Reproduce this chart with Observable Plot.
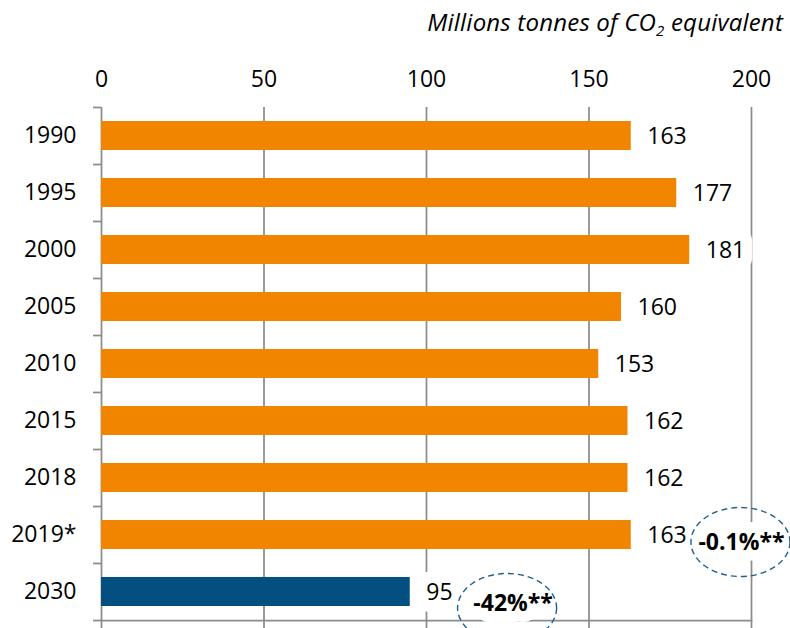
<!DOCTYPE html>
<html>
<head>
<meta charset="utf-8">
<script src="https://cdn.jsdelivr.net/npm/d3@7"></script>
<script src="https://cdn.jsdelivr.net/npm/@observablehq/plot@0.6"></script>
<style>
  html, body { margin: 0; padding: 0; background: white; }
  #title { font: italic 24px "Open Sans", sans-serif; text-align: right; padding-right: 7px; height: 44px; line-height: 44px; color: #000; white-space: nowrap; letter-spacing: 0.2px; }
  #title sub { font-size: 15px; vertical-align: -5px; line-height: 0; }
  #chart svg { display: block; }
</style>
</head>
<body>
<div id="title">Millions tonnes of CO<sub>2</sub> equivalent</div>
<div id="chart"></div>
<script>
// ---- data ----
const years = ["1990", "1995", "2000", "2005", "2010", "2015", "2018", "2019*", "2030"];
const emissions = [163, 177, 181, 160, 153, 162, 162, 163, 95];
const kinds = ["history", "history", "history", "history", "history", "history", "history", "history", "target"];
const xTicks = [0, 50, 100, 150, 200];
const noteYears = ["2019*", "2030"];
const noteLabels = ["-0.1%**", "-42%**"];
const noteX = [196.6, 124.8];

const data = years.map((y, i) => ({year: y, value: emissions[i], kind: kinds[i]}));
const notes = noteYears.map((y, i) => ({year: y, label: noteLabels[i], x: noteX[i]}));

// ---- layout ----
const W = 790, H = 584, mT = 63, mB = 8, mL = 101, mR = 39;
const step = (H - mT - mB) / years.length;
const gray = "#8c8c8c";
const FS = 23;

// ellipse symbol for the annotations
const ellipse = {
  draw(ctx) {
    const rx = 49.5, ry = 34.5, k = 0.5523;
    ctx.moveTo(rx, 0);
    ctx.bezierCurveTo(rx, k * ry, k * rx, ry, 0, ry);
    ctx.bezierCurveTo(-k * rx, ry, -rx, k * ry, -rx, 0);
    ctx.bezierCurveTo(-rx, -k * ry, -k * rx, -ry, 0, -ry);
    ctx.bezierCurveTo(k * rx, -ry, rx, -k * ry, rx, 0);
    ctx.closePath();
  }
};

const chart = Plot.plot({
  width: W, height: H,
  marginTop: mT, marginBottom: mB, marginLeft: mL, marginRight: mR,
  style: {fontFamily: "'Open Sans', sans-serif", fontSize: FS + "px", color: "#000", background: "white"},
  x: {domain: [0, 200], axis: null},
  y: {domain: years, paddingInner: 0.5, paddingOuter: 0.25, axis: null},
  color: {domain: ["history", "target"], range: ["#F28500", "#034F80"]},
  marks: [
    Plot.ruleX(xTicks, {stroke: gray, strokeWidth: 1.75, insetBottom: -8}),
    Plot.frame({anchor: "bottom", stroke: gray, strokeWidth: 1.75}),
    Plot.ruleY(years, {y: d => d, x1: 0, x2: 0, insetLeft: -8, dy: -step / 2, stroke: gray, strokeWidth: 1.75}),
    Plot.ruleY(years.slice(-1), {y: d => d, x1: 0, x2: 0, insetLeft: -8, dy: step / 2, stroke: gray, strokeWidth: 1.75}),
    Plot.axisX({anchor: "top", ticks: xTicks, tickSize: 0, tickPadding: 21, label: null, fontSize: FS}),
    Plot.axisY({tickSize: 0, tickPadding: 25, label: null, fontSize: FS}),
    Plot.barX(data, {x: "value", y: "year", fill: "kind"}),
    Plot.text(data, {x: "value", y: "year", text: d => String(d.value), textAnchor: "start", dx: 16, dy: 1,
      fill: "#000", stroke: "white", strokeWidth: 24, strokeLinejoin: "round", paintOrder: "stroke", fontSize: FS}),
    Plot.text(notes.slice(0, 1), {x: "x", y: "year", text: "label", dx: 1, dy: 8, fontWeight: "bold",
      fill: "#000", stroke: "white", strokeWidth: 22, strokeLinejoin: "round", paintOrder: "stroke", fontSize: FS}),
    Plot.text(notes.slice(1), {x: "x", y: "year", text: "label", dx: 6, dy: 12, fontWeight: "bold",
      fill: "#000", stroke: "white", strokeWidth: 22, strokeLinejoin: "round", paintOrder: "stroke", fontSize: FS}),
    Plot.dot(notes.slice(0, 1), {x: "x", y: "year", dy: 7, symbol: ellipse, r: 10, fill: "none",
      stroke: "#1f5f8f", strokeWidth: 1.4, strokeDasharray: "6 4"}),
    Plot.dot(notes.slice(1), {x: "x", y: "year", dy: 16, symbol: ellipse, r: 10, fill: "none",
      stroke: "#1f5f8f", strokeWidth: 1.4, strokeDasharray: "6 4"})
  ]
});
document.getElementById("chart").appendChild(chart);
</script>
</body>
</html>
